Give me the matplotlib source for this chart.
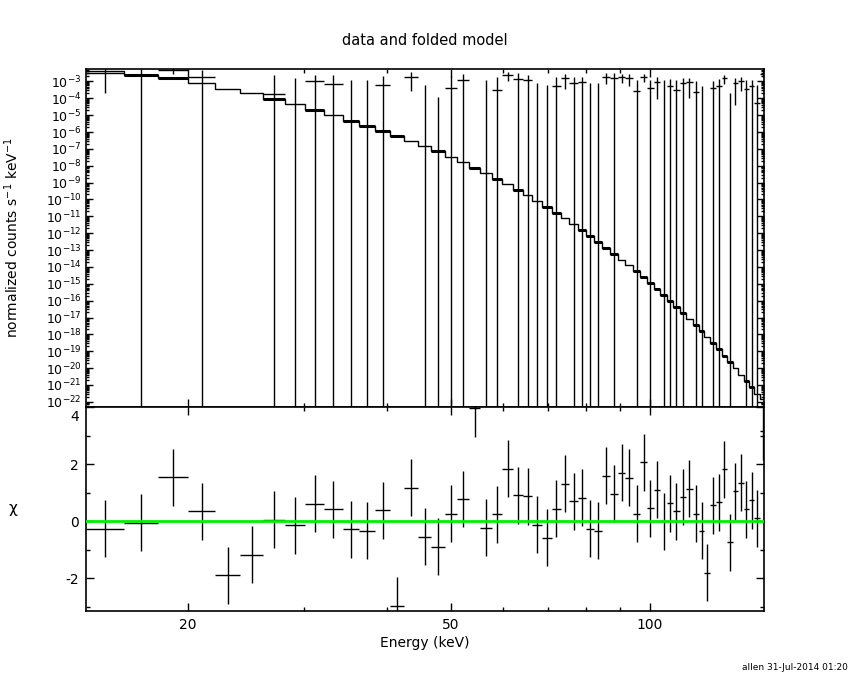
import numpy as np
import matplotlib
matplotlib.use("Agg")
import matplotlib.pyplot as plt
import matplotlib.transforms as mtransforms
from matplotlib.ticker import FixedLocator, LogLocator, NullFormatter, FixedFormatter

# ---------------- data ----------------
bin_edges = [14.0, 16.0, 18.0, 20.0, 22.0, 24.0, 26.0, 28.0, 30.1, 32.1, 34.3, 36.3,
             38.4, 40.4, 42.5, 44.6, 46.7, 49.0, 51.1, 53.2, 55.4, 57.6, 59.8, 62.0,
             64.2, 66.4, 68.7, 71.0, 73.3, 75.5, 77.8, 80.1, 82.4, 84.7, 87.1, 89.4,
             91.8, 94.3, 96.6, 99.0, 101.4, 103.7, 106.1, 108.5, 110.9, 113.5, 116.0,
             118.5, 120.9, 123.4, 125.9, 128.4, 130.9, 133.4, 136.0, 138.6, 141.2,
             143.8, 146.6, 149.6]

rate = [3.3e-3, 2.35e-3, 4.8e-3, 1.86e-3, -3.43e-3, -2.17e-3, 1.74e-4, -2.1e-4,
        1.03e-3, 6.8e-4, -4.8e-4, -5.8e-4, 5.95e-4, -4.45e-3, 1.88e-3, -7.9e-4,
        -1.08e-3, 4.1e-4, 1.25e-3, 8.7e-3, -3.5e-4, 3.0e-4, 2.33e-3, 1.5e-3,
        1.2e-3, -1.16e-4, -8.2e-4, 5.4e-4, 1.62e-3, 8.5e-4, 9.0e-4, -3.0e-4,
        -4.2e-4, 1.85e-3, 1.62e-3, 1.85e-3, 1.62e-3, 2.73e-4, 1.85e-3, 3.95e-4,
        9.7e-4, -2e-5, 5.4e-4, 3.13e-4, 7.8e-4, 8.97e-4, 2.28e-4, -2.7e-4,
        -1.44e-3, 3.95e-4, 5.64e-4, 1.55e-3, -5.84e-4, 7.8e-4, 1.11e-3, 3.59e-4,
        5.4e-4, 5.5e-5, 2.79e-3]

rate_err = [3.1e-3, 3.0e-3, 2.0e-3, 3.0e-3, 2.0e-3, 2.0e-3, 2.33e-3, 1.83e-3,
            1.5e-3, 1.65e-3, 1.66e-3, 1.76e-3, 1.52e-3, 1.5e-3, 1.6e-3, 1.44e-3,
            1.2e-3, 1.71e-3, 1.5e-3, 2.2e-3, 1.53e-3, 1.55e-3, 1.26e-3, 1.55e-3,
            1.3e-3, 9.7e-4, 1.42e-3, 1.31e-3, 1.24e-3, 1.0e-3, 1.0e-3, 1.15e-3,
            1.27e-3, 1.16e-3, 1.69e-3, 1.08e-3, 1.06e-3, 1.0e-3, 8.9e-4, 8.6e-4,
            8.8e-4, 1.25e-3, 8.6e-4, 8.9e-4, 9.2e-4, 7.9e-4, 8.5e-4, 8.1e-4,
            8.0e-4, 7.1e-4, 8.4e-4, 8.5e-4, 8.0e-4, 7.4e-4, 8.2e-4, 8.5e-4,
            7.3e-4, 5.5e-4, 8.9e-4]

model = [4.07e-3, 2.51e-3, 1.62e-3, 8.1e-4, 3.7e-4, 1.95e-4, 9.3e-5, 4.5e-5,
         2.1e-5, 1.02e-5, 4.8e-6, 2.4e-6, 1.2e-6, 5.9e-7, 3.1e-7, 1.5e-7,
         7.2e-8, 3.3e-8, 1.66e-8, 7.6e-9, 3.7e-9, 1.7e-9, 8.5e-10, 3.8e-10,
         1.9e-10, 8.1e-11, 3.7e-11, 1.6e-11, 7.6e-12, 3.4e-12, 1.55e-12, 7.1e-13,
         3.1e-13, 1.4e-13, 5.8e-14, 2.6e-14, 1.23e-14, 5.9e-15, 2.6e-15, 1.15e-15,
         5.0e-16, 2.1e-16, 9.8e-17, 4.3e-17, 1.8e-17, 8.3e-18, 3.7e-18, 1.55e-18,
         6.6e-19, 2.9e-19, 1.3e-19, 5.4e-20, 2.3e-20, 9.8e-21, 4.1e-21, 1.8e-21,
         7.6e-22, 3.1e-22, 1.55e-22]

chi = [-0.26, -0.05, 1.54, 0.35, -1.90, -1.18, 0.05, -0.14, 0.61, 0.42, -0.29,
       -0.33, 0.39, -2.97, 1.18, -0.55, -0.90, 0.27, 0.78, 3.97, -0.23, 0.24,
       1.85, 0.92, 0.88, -0.12, -0.58, 0.43, 1.31, 0.70, 0.82, -0.26, -0.33,
       1.60, 0.96, 1.71, 1.53, 0.27, 2.07, 0.46, 1.10, 0.00, 0.63, 0.35, 0.85,
       1.14, 0.27, -0.33, -1.80, 0.56, 0.67, 1.83, -0.73, 1.06, 1.35, 0.42,
       0.74, 0.10, 3.15]

chi_err = [1.0] * 59

# bins whose model step is rendered bold in the reference (style only)
bold_bins = [2, 3, 7, 9, 11, 12, 13, 14, 17, 20, 22, 24, 27, 28, 31, 32, 33, 34,
             35, 38, 39, 40, 41, 42, 43, 44, 45, 47, 48, 50, 51, 52, 53, 56, 57]

x_major = [20, 50, 100]
x_minor = [30, 40, 60, 70, 80, 90]
chi_major = [-2, 0, 2, 4]
chi_minor = [-3, -1, 1, 3]

# ---------------- derived ----------------
edges = np.array(bin_edges)
lo, hi = edges[:-1], edges[1:]
cen = 0.5 * (lo + hi)
xerr = np.vstack([cen - lo, hi - cen])
rate_a = np.array(rate)
err_a = np.array(rate_err)
model_a = np.array(model)

plt.rcParams['font.family'] = ['DejaVu Sans']
plt.rcParams['mathtext.default'] = 'regular'

fig = plt.figure(figsize=(8.5, 6.8), dpi=100)
ax1 = fig.add_axes([0.1008, 0.401, 0.798, 0.498])
ax2 = fig.add_axes([0.1008, 0.1015, 0.798, 0.2996])

XMIN, XMAX = 14.0, 148.8

# ---- top panel ----
ax1.set_xscale('log')
ax1.set_yscale('log', nonpositive='clip')
ax1.errorbar(cen, rate_a, xerr=xerr, yerr=err_a, fmt='none', ecolor='black',
             elinewidth=1.0, capsize=0)
ax1.stairs(model_a, edges, color='black', linewidth=1.0, baseline=None)
bi = np.array(bold_bins) - 1
ax1.hlines(model_a[bi], lo[bi], hi[bi], colors='black', linewidth=2.2)
ax1.set_xlim(XMIN, XMAX)
ax1.set_ylim(4.7e-23, 5.75e-3)

ax1.yaxis.set_major_locator(LogLocator(base=10, numticks=100))
ax1.yaxis.set_minor_locator(LogLocator(base=10, subs=np.arange(2, 10), numticks=100))
ax1.yaxis.set_minor_formatter(NullFormatter())

# ---- bottom panel ----
ax2.set_xscale('log')
ax2.errorbar(cen, chi, xerr=xerr, yerr=chi_err, fmt='none', ecolor='black',
             elinewidth=1.0, capsize=0)
ax2.axhline(0.0, color='#00f000', linewidth=2.0, zorder=5)
ax2.set_xlim(XMIN, XMAX)
ax2.set_ylim(-3.15, 4.0)
ax2.yaxis.set_major_locator(FixedLocator(chi_major))
ax2.yaxis.set_minor_locator(FixedLocator(chi_minor))
ax2.yaxis.set_major_formatter(FixedFormatter([str(v) for v in chi_major]))

for ax in (ax1, ax2):
    ax.xaxis.set_major_locator(FixedLocator(x_major))
    ax.xaxis.set_minor_locator(FixedLocator(x_minor))
    ax.xaxis.set_major_formatter(FixedFormatter([str(v) for v in x_major]))
    ax.xaxis.set_minor_formatter(NullFormatter())
    ax.tick_params(which='both', direction='in', top=True, right=True,
                   colors='black', labelsize=10)
    ax.tick_params(which='major', length=6, width=1.0, pad=5)
    ax.tick_params(which='minor', length=3, width=1.0)
    for s in ax.spines.values():
        s.set_linewidth(1.2)
        s.set_color('black')

ax1.tick_params(axis='x', labelbottom=False)
ax1.tick_params(axis='y', which='major', length=5, pad=3, labelsize=9)
ax1.tick_params(axis='y', which='minor', length=2.5)

# keep the "4" label just below the panel boundary, as in the reference
fig.canvas.draw()
for tick in ax2.yaxis.get_major_ticks():
    if tick.get_loc() == chi_major[-1]:
        lab = tick.label1
        lab.set_va('top')
        lab.set_transform(lab.get_transform() +
                          mtransforms.ScaledTranslation(0, -2 / 72, fig.dpi_scale_trans))

# ---- texts ----
fig.text(0.5, 0.941, 'data and folded model', ha='center', va='center', fontsize=10.5)
fig.text(0.5, 0.055, 'Energy (keV)', ha='center', va='center', fontsize=10)
fig.text(0.014, 0.65, r'normalized counts s$^{-1}$ keV$^{-1}$', rotation=90,
         ha='center', va='center', fontsize=10)
fig.text(0.016, 0.25, r'$\chi$', ha='center', va='center', fontsize=11)
fig.text(0.998, 0.019, 'allen 31-Jul-2014 01:20', ha='right', va='center', fontsize=6.5)

fig.savefig('out.png', dpi=100)
